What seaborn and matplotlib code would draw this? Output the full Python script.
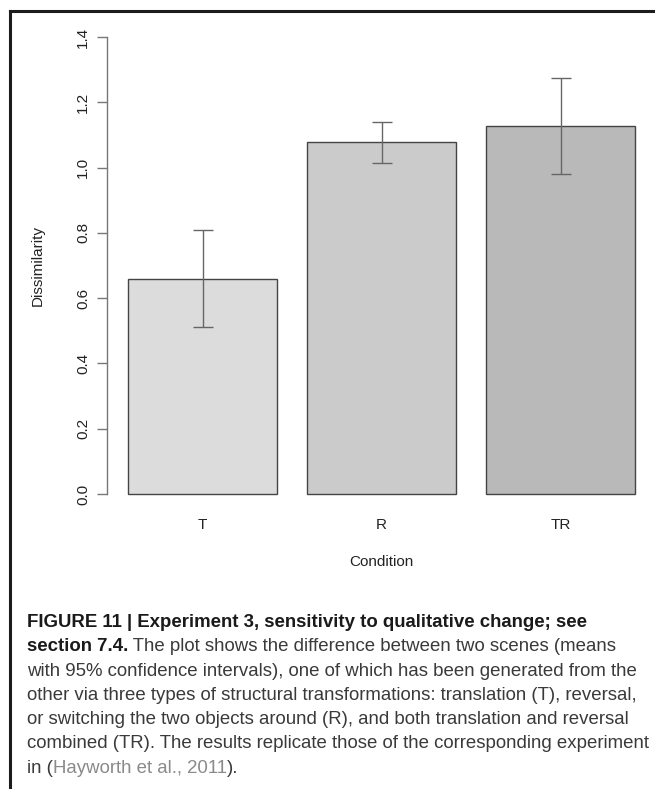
import matplotlib
matplotlib.use("Agg")
import matplotlib.pyplot as plt
from matplotlib.lines import Line2D
import seaborn as sns
import pandas as pd

# ---- data ----
conditions = ["T", "R", "TR"]
means = [0.660, 1.077, 1.126]
ci_half = [0.149, 0.063, 0.147]
bar_colors = ["#dcdcdc", "#cbcbcb", "#b9b9b9"]
y_ticks = [0.0, 0.2, 0.4, 0.6, 0.8, 1.0, 1.2, 1.4]
y_ticklabels = ["0.0", "0.2", "0.4", "0.6", "0.8", "1.0", "1.2", "1.4"]
x_label = "Condition"
y_label = "Dissimilarity"
caption_lines = [
    [("FIGURE 11 | Experiment 3, sensitivity to qualitative change; see", "bold", "#1a1a1a")],
    [("section 7.4.", "bold", "#1a1a1a"),
     (" The plot shows the difference between two scenes (means", "normal", "#3a3a3a")],
    [("with 95% confidence intervals), one of which has been generated from the", "normal", "#3a3a3a")],
    [("other via three types of structural transformations: translation (T), reversal,", "normal", "#3a3a3a")],
    [("or switching the two objects around (R), and both translation and reversal", "normal", "#3a3a3a")],
    [("combined (TR). The results replicate those of the corresponding experiment", "normal", "#3a3a3a")],
    [("in (", "normal", "#3a3a3a"), ("Hayworth et al., 2011", "normal", "#8a8a8a"),
     (").", "normal", "#3a3a3a")],
]

df = pd.DataFrame({"Condition": conditions, "Dissimilarity": means})

sns.set_style("white")
plt.rcParams["font.family"] = ["Liberation Sans", "DejaVu Sans"]

W, H = 655, 789
fig = plt.figure(figsize=(W / 100, H / 100), dpi=100)

ax_left, ax_right, ax_top, ax_bottom = 107, 655, 19, 512
ax = fig.add_axes([ax_left / W, 1 - ax_bottom / H,
                   (ax_right - ax_left) / W, (ax_bottom - ax_top) / H])

sns.barplot(data=df, x="Condition", y="Dissimilarity", hue="Condition",
            palette=bar_colors, legend=False, errorbar=None, width=0.833,
            saturation=1, edgecolor="#444444", linewidth=1.0, ax=ax)

ax.errorbar(conditions, means, yerr=ci_half, fmt="none", ecolor="#666666",
            elinewidth=1.0, capsize=7, capthick=1.0)

ax.set_xlim(-0.534, 2.528)
ax.set_ylim(-0.0551, 1.455)

for s in ["top", "right", "bottom"]:
    ax.spines[s].set_visible(False)
ax.spines["left"].set_bounds(0, 1.4)
ax.spines["left"].set_color("#777777")
ax.spines["left"].set_linewidth(1.0)

ax.set_yticks(y_ticks)
ax.set_yticklabels(y_ticklabels, rotation=90, va="center", fontsize=11, color="#222222")
ax.tick_params(axis="y", direction="out", length=7, width=1.0, color="#777777",
               pad=5, left=True)
ax.tick_params(axis="x", length=0, pad=4, labelsize=11, labelcolor="#222222")

ax.set_xlabel(x_label, fontsize=11, color="#222222", va="center")
ax.xaxis.set_label_coords(0.5, -(562 - ax_bottom) / (ax_bottom - ax_top))
ax.set_ylabel(y_label, fontsize=11, color="#222222", va="center")
ax.yaxis.set_label_coords(-(ax_left - 38) / (ax_right - ax_left), 0.5)

# frame (left and top border)
fig.add_artist(Line2D([10 / W, 10 / W], [0, 1 - 11 / H], transform=fig.transFigure,
                      color="#1c1c1c", linewidth=2.2, solid_capstyle="projecting"))
fig.add_artist(Line2D([10 / W, 1], [1 - 11 / H, 1 - 11 / H], transform=fig.transFigure,
                      color="#1c1c1c", linewidth=2.2, solid_capstyle="projecting"))

# caption
cap_family = ["Liberation Sans", "DejaVu Sans"]
cap_size = 13.45
renderer = fig.canvas.get_renderer()
first_center, spacing = 621, 24.3
for i, runs in enumerate(caption_lines):
    base_y = first_center + i * spacing + 6
    x = 27
    for txt, weight, color in runs:
        t = fig.text(x / W, 1 - base_y / H, txt, fontsize=cap_size, fontweight=weight,
                     color=color, family=cap_family, va="baseline", ha="left")
        bb = t.get_window_extent(renderer)
        x = bb.x1

fig.savefig("out.png", dpi=100)
